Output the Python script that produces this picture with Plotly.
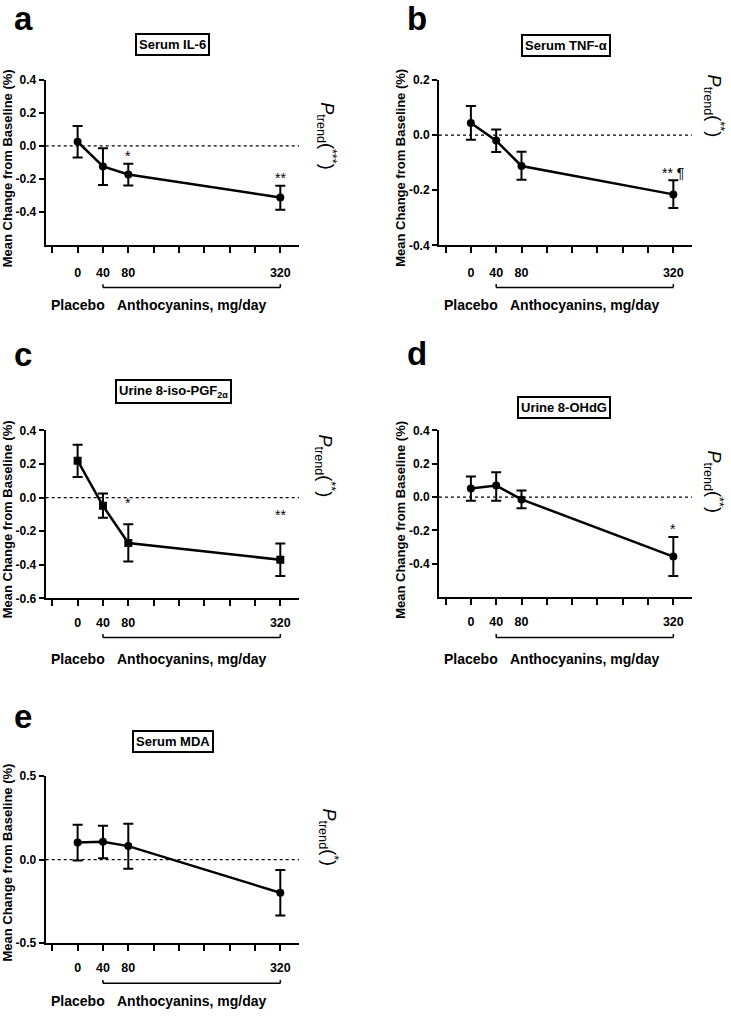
import plotly.graph_objects as go

W, H = 731, 1017
FONT = "Liberation Sans, Arial, Helvetica, sans-serif"

# ---------------- data ----------------
doses = [0, 40, 80, 320]
dose_labels = ["0", "40", "80", "320"]
tick_doses = [-40, 0, 40, 80, 120, 160, 200, 240, 280, 320]

il6_mean = [0.025, -0.125, -0.174, -0.313]
il6_upper = [0.120, -0.014, -0.109, -0.242]
il6_lower = [-0.071, -0.238, -0.240, -0.388]

tnf_mean = [0.044, -0.020, -0.112, -0.215]
tnf_upper = [0.106, 0.020, -0.060, -0.164]
tnf_lower = [-0.017, -0.061, -0.162, -0.264]

iso_mean = [0.220, -0.049, -0.270, -0.370]
iso_upper = [0.314, 0.024, -0.159, -0.273]
iso_lower = [0.122, -0.120, -0.380, -0.467]

ohdg_mean = [0.051, 0.069, -0.014, -0.357]
ohdg_upper = [0.124, 0.149, 0.039, -0.239]
ohdg_lower = [-0.022, -0.022, -0.067, -0.473]

mda_mean = [0.103, 0.107, 0.081, -0.199]
mda_upper = [0.209, 0.203, 0.215, -0.063]
mda_lower = [-0.006, 0.008, -0.055, -0.335]

titles = ["Serum IL-6", "Serum TNF-α", "Urine 8-iso-PGF<sub>2α</sub>", "Urine 8-OHdG", "Serum MDA"]
letters = ["a", "b", "c", "d", "e"]
ptrend_stars = ["***", "**", "**", "**", "*"]
y_ranges = [[-0.6, 0.4], [-0.4, 0.2], [-0.6, 0.4], [-0.6, 0.4], [-0.5, 0.5]]
y_ticks = [[-0.4, -0.2, 0.0, 0.2, 0.4], [-0.4, -0.2, 0.0, 0.2], [-0.6, -0.4, -0.2, 0.0, 0.2, 0.4],
           [-0.4, -0.2, 0.0, 0.2, 0.4], [-0.5, 0.0, 0.5]]
symbols = ["circle", "circle", "square", "circle", "circle"]
# significance marks: (dose, y value, text)
sig_marks = [
    [(80, -0.046, "*"), (320, -0.174, "**")],
    [(320, -0.125, "** ¶")],
    [(80, -0.012, "*"), (320, -0.088, "**")],
    [(320, -0.173, "*")],
    [],
]
means = [il6_mean, tnf_mean, iso_mean, ohdg_mean, mda_mean]
uppers = [il6_upper, tnf_upper, iso_upper, ohdg_upper, mda_upper]
lowers = [il6_lower, tnf_lower, iso_lower, ohdg_lower, mda_lower]

# ---------------- layout geometry (page pixels) ----------------
geo = [
    dict(l=45.7, r=299, t=74, b=241, box=(172.5, 38.5), yt=(7.5, 164), pt=(327, 130), let=(12, 12), br=284.5, txt=302, so=9),
    dict(l=439, r=692, t=74, b=241.7, box=(565.5, 39), yt=(401, 163), pt=(714, 100), let=(405, 12), br=284.3, txt=302, so=9),
    dict(l=45.7, r=299, t=429.3, b=599.7, box=(173.5, 390), yt=(7.5, 520), pt=(325, 465), let=(12, 352), br=639.3, txt=660.7, so=6),
    dict(l=439, r=692, t=429.3, b=598.3, box=(564, 406), yt=(401, 520), pt=(714, 481), let=(405, 351), br=639.3, txt=660.7, so=6),
    dict(l=45.7, r=299, t=780, b=949, box=(173, 744.5), yt=(7.5, 868), pt=(329, 842), let=(12, 719), br=990, txt=1008, so=6),
]


def px(x):
    return x / W


def py(y):
    return 1 - y / H


def blk(t):
    return '<span style="color:black">' + t + "</span>"


fig = go.Figure()
annotations = []
shapes = []
layout = {}

for i in range(5):
    n = "" if i == 0 else str(i + 1)
    g = geo[i]
    m, u, lo = means[i], uppers[i], lowers[i]
    fig.add_trace(go.Scatter(
        x=doses, y=m, mode="lines+markers", xaxis="x" + n, yaxis="y" + n,
        line=dict(color="black", width=2.5),
        marker=dict(symbol=symbols[i], size=8, color="black"),
        error_y=dict(type="data", symmetric=False,
                     array=[a - b for a, b in zip(u, m)],
                     arrayminus=[b - c for b, c in zip(m, lo)],
                     width=5, thickness=2, color="black"),
        showlegend=False, hoverinfo="skip",
    ))
    layout["xaxis" + n] = dict(
        domain=[px(g["l"]), px(g["r"])], anchor="y" + n, range=[-50.4, 349.5],
        showline=True, linewidth=2, linecolor="black", ticks="outside", ticklen=6, tickwidth=2,
        tickcolor="black", tickvals=doses, ticktext=dose_labels, showgrid=False, zeroline=False,
        minor=dict(tickvals=tick_doses, ticks="outside", ticklen=6, tickwidth=2, tickcolor="black", showgrid=False),
        tickfont=dict(family=FONT, size=12.5, color="black", weight="bold"), ticklabelstandoff=g["so"],
        fixedrange=True,
    )
    layout["yaxis" + n] = dict(
        domain=[py(g["b"]), py(g["t"])], anchor="x" + n, range=y_ranges[i],
        showline=True, linewidth=2, linecolor="black", ticks="outside", ticklen=5, tickwidth=2,
        tickcolor="black", tickvals=y_ticks[i], ticktext=[f"{v:.1f}" for v in y_ticks[i]],
        showgrid=False, zeroline=False,
        tickfont=dict(family=FONT, size=12, color="black", weight="bold"), fixedrange=True,
    )
    # dotted zero line
    shapes.append(dict(type="line", xref="x" + n + " domain", x0=0, x1=1, yref="y" + n, y0=0, y1=0,
                       line=dict(color="black", width=1.2, dash="dot"), layer="below"))
    # bracket under anthocyanin doses
    by = py(g["br"])
    bt = py(g["br"] - 3.5)
    shapes.append(dict(type="line", xref="x" + n, yref="paper", x0=doses[1], x1=doses[-1], y0=by, y1=by,
                       line=dict(color="black", width=1.5)))
    for d in (doses[1], doses[-1]):
        shapes.append(dict(type="line", xref="x" + n, yref="paper", x0=d, x1=d, y0=by, y1=bt,
                           line=dict(color="black", width=1.5)))
    # group labels
    annotations.append(dict(text="<b>Placebo</b>", xref="x" + n, yref="paper", x=doses[0], y=py(g["txt"]),
                            showarrow=False, xanchor="center", yanchor="middle",
                            font=dict(family=FONT, size=14, color="black")))
    annotations.append(dict(text="<b>Anthocyanins, mg/day</b>", xref="x" + n, yref="paper",
                            x=(doses[1] + doses[-1]) / 2, y=py(g["txt"]),
                            showarrow=False, xanchor="center", yanchor="middle",
                            font=dict(family=FONT, size=14, color="black")))
    # title box
    annotations.append(dict(text="<b>" + titles[i] + "</b>", xref="paper", yref="paper",
                            x=px(g["box"][0]), y=py(g["box"][1]), showarrow=False,
                            xanchor="center", yanchor="middle", bordercolor="black", borderwidth=2,
                            borderpad=2, bgcolor="white", font=dict(family=FONT, size=13, color="black")))
    # y title
    annotations.append(dict(text="<b>Mean Change from Baseline (%)</b>", xref="paper", yref="paper",
                            x=px(g["yt"][0]), y=py(g["yt"][1]), textangle=-90, showarrow=False,
                            xanchor="center", yanchor="middle", font=dict(family=FONT, size=13, color="black")))
    # P trend
    annotations.append(dict(text=blk("<i>P</i>") + "<sub>" + blk("trend") + "</sub>" + blk("(")
                            + "<sup>" + blk(ptrend_stars[i]) + "</sup>" + blk(")"),
                            xref="paper", yref="paper", x=px(g["pt"][0]), y=py(g["pt"][1]),
                            textangle=90, showarrow=False, xanchor="center", yanchor="middle",
                            font=dict(family=FONT, size=18, color="black")))
    # panel letter
    annotations.append(dict(text="<b>" + letters[i] + "</b>", xref="paper", yref="paper",
                            x=px(g["let"][0]), y=py(g["let"][1]), showarrow=False,
                            xanchor="left", yanchor="middle", font=dict(family=FONT, size=33, color="black")))
    # significance marks
    for d, yv, t in sig_marks[i]:
        annotations.append(dict(text=blk(t), xref="x" + n, yref="y" + n, x=d, y=yv, yshift=-3, showarrow=False,
                                xanchor="center", yanchor="middle", font=dict(family=FONT, size=14, color="black")))

fig.update_layout(
    width=W, height=H, margin=dict(l=0, r=0, t=0, b=0),
    paper_bgcolor="white", plot_bgcolor="white",
    annotations=annotations, shapes=shapes, showlegend=False,
    **layout,
)

fig.write_html("out.html", config={"displayModeBar": False},
               post_script="document.documentElement.style.margin='0';document.body.style.margin='0';"
                           "document.documentElement.style.overflow='hidden';document.body.style.overflow='hidden';")
